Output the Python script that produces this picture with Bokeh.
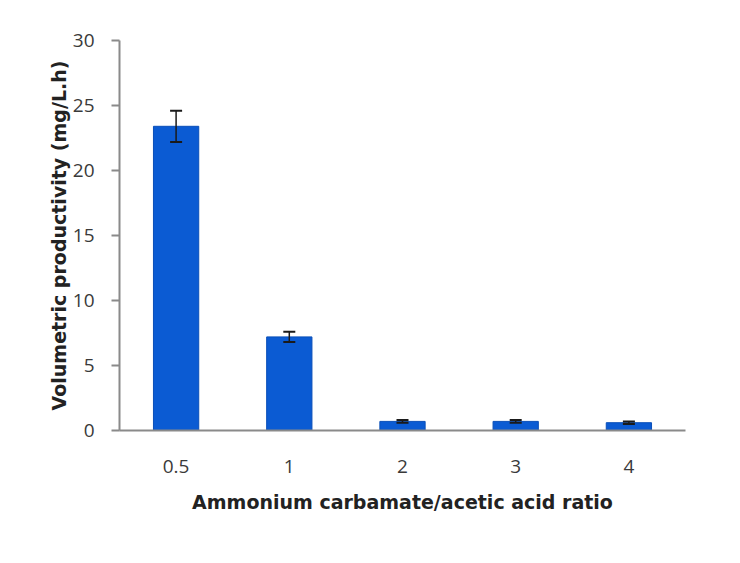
from bokeh.plotting import figure
from bokeh.models import ColumnDataSource, Whisker, TeeHead, FactorRange, Range1d
from bokeh.embed import file_html
from bokeh.resources import INLINE

ratios = ["0.5", "1", "2", "3", "4"]
productivity = [23.4, 7.2, 0.7, 0.7, 0.6]
errors = [1.2, 0.4, 0.1, 0.1, 0.1]
y_ticks = [0, 5, 10, 15, 20, 25, 30]

src = ColumnDataSource(dict(
    x=ratios,
    top=productivity,
    upper=[v + e for v, e in zip(productivity, errors)],
    lower=[v - e for v, e in zip(productivity, errors)],
))

p = figure(width=740, height=563, x_range=FactorRange(*ratios), y_range=Range1d(0, 30),
           output_backend="svg", toolbar_location=None,
           min_border_left=119, min_border_right=55, min_border_top=40, min_border_bottom=133)
p.outline_line_color = None
p.xgrid.grid_line_color = None
p.ygrid.grid_line_color = None
p.x_range.range_padding = 0

p.vbar(x="x", top="top", width=0.4, source=src, fill_color="#0b5bd3", line_color="#0a4fb8", line_width=1)

w = Whisker(base="x", upper="upper", lower="lower", source=src, line_color="#1a1a1a", line_width=1.5,
            upper_head=TeeHead(size=12, line_color="#1a1a1a", line_width=2),
            lower_head=TeeHead(size=12, line_color="#1a1a1a", line_width=2),
            level="overlay")
p.add_layout(w)

tick_font = "Open Sans"
label_font = "DejaVu Sans"
p.yaxis.ticker = y_ticks
p.yaxis.axis_line_color = "#8a8a8a"
p.yaxis.axis_line_width = 2
p.yaxis.major_tick_line_color = "#8a8a8a"
p.yaxis.major_tick_line_width = 2
p.yaxis.major_tick_out = 8
p.yaxis.major_tick_in = 0
p.yaxis.minor_tick_line_color = None
p.yaxis.major_label_standoff = 17
p.yaxis.major_label_text_font = tick_font
p.yaxis.major_label_text_font_size = "19px"
p.yaxis.major_label_text_color = "#3a3a3a"
p.yaxis.axis_label = "Volumetric productivity (mg/L.h)"
p.yaxis.axis_label_text_font = label_font
p.yaxis.axis_label_text_font_size = "19px"
p.yaxis.axis_label_text_font_style = "bold"
p.yaxis.axis_label_text_color = "#222222"
p.yaxis.axis_label_standoff = 0

p.xaxis.axis_line_color = "#8a8a8a"
p.xaxis.axis_line_width = 2
p.xaxis.major_tick_line_color = None
p.xaxis.major_tick_out = 0
p.xaxis.minor_tick_line_color = None
p.xaxis.major_label_standoff = 29
p.xaxis.major_label_text_font = tick_font
p.xaxis.major_label_text_font_size = "19px"
p.xaxis.major_label_text_color = "#3a3a3a"
p.xaxis.axis_label = "Ammonium carbamate/acetic acid ratio"
p.xaxis.axis_label_text_font = label_font
p.xaxis.axis_label_text_font_size = "19px"
p.xaxis.axis_label_text_font_style = "bold"
p.xaxis.axis_label_text_color = "#222222"
p.xaxis.axis_label_standoff = 15

open("out.html", "w").write(file_html(p, INLINE))
